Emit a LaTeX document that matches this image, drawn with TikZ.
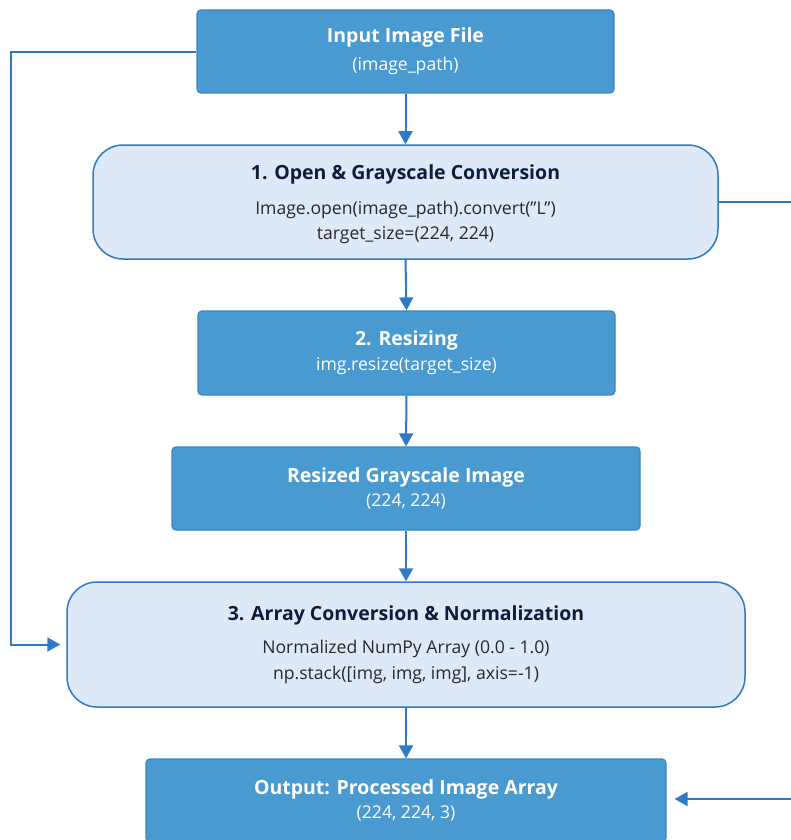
\documentclass[tikz,border=0pt]{standalone}
\usepackage{fontspec}
\setmainfont{Open Sans}
\usetikzlibrary{arrows.meta}
\definecolor{darkfill}{RGB}{74,154,210}
\definecolor{darkedge}{RGB}{58,134,196}
\definecolor{lightfill}{RGB}{221,233,246}
\definecolor{lightedge}{RGB}{46,122,196}
\definecolor{arrowc}{RGB}{46,122,196}
\definecolor{navy}{RGB}{12,30,62}
\definecolor{subgray}{RGB}{40,40,48}
\tikzset{
  darkbox/.style={draw=darkedge, line width=1.2pt, fill=darkfill, rounded corners=4pt,
    text=white, align=center, inner sep=0pt},
  lightbox/.style={draw=lightedge, line width=1.5pt, fill=lightfill, rounded corners=30pt,
    text=subgray, align=center, inner sep=0pt},
  conn/.style={draw=arrowc, line width=2pt, -{Triangle[length=13pt,width=14pt]}},
  plain/.style={draw=arrowc, line width=2pt},
}
\newcommand{\ttlw}[1]{{\fontsize{19.5}{22}\selectfont\bfseries #1}}
\newcommand{\ttln}[1]{{\fontsize{19.5}{22}\selectfont\bfseries\color{navy} #1}}
\newcommand{\subt}{\fontsize{17.6}{19}\selectfont}
\begin{document}
\begin{tikzpicture}[x=1pt,y=-1pt]
\clip (0,0) rectangle (791,840);
\fill[white] (0,0) rectangle (791,840);
% boxes
\node[darkbox, minimum width=417pt, minimum height=83pt] (inp) at (405.5,51.5)
  {\ttlw{Input Image File}\\[9pt]\subt (image\_path)};
\node[lightbox, minimum width=625pt, minimum height=114pt, text depth=0pt] (b1) at (405.5,202)
  {\ttln{1. Open \& Grayscale Conversion}\\[16pt]\subt Image.open(image\_path).convert("L")\\[7pt]\subt target\_size=(224, 224)};
\node[darkbox, minimum width=417pt, minimum height=84pt] (b2) at (406.5,353)
  {\ttlw{2. Resizing}\\[6pt]\subt img.resize(target\_size)};
\node[darkbox, minimum width=468pt, minimum height=83pt] (rs) at (406,488.5)
  {\ttlw{Resized Grayscale Image}\\[6pt]\subt (224, 224)};
\node[lightbox, minimum width=678pt, minimum height=125pt] (b3) at (406,644.5)
  {\ttln{3. Array Conversion \& Normalization}\\[14pt]\subt Normalized NumPy Array (0.0 - 1.0)\\[7pt]\subt np.stack([img, img, img], axis=-1)};
\node[darkbox, minimum width=520pt, minimum height=83pt] (out) at (406,800.5)
  {\ttlw{Output: Processed Image Array}\\[6pt]\subt (224, 224, 3)};
% free ends
\coordinate (lx) at (11,52);
\coordinate (rtop) at (795,202);
\coordinate (rbot) at (795,799);
% connectors
\draw[conn] (inp.south) -- (b1.north);
\draw[conn] (b1.south) -- (b2.north);
\draw[conn] (b2.south) -- (rs.north);
\draw[conn] (rs.south) -- (b3.north);
\draw[conn] (b3.south) -- (out.north);
\draw[conn, shorten >=6pt] (inp.west |- lx) -- (lx) |- (b3.west);
\draw[plain] (b1.east) -- (rtop);
\draw[conn, shorten >=8pt] (rbot) -- (out.east |- rbot);
\end{tikzpicture}
\end{document}
